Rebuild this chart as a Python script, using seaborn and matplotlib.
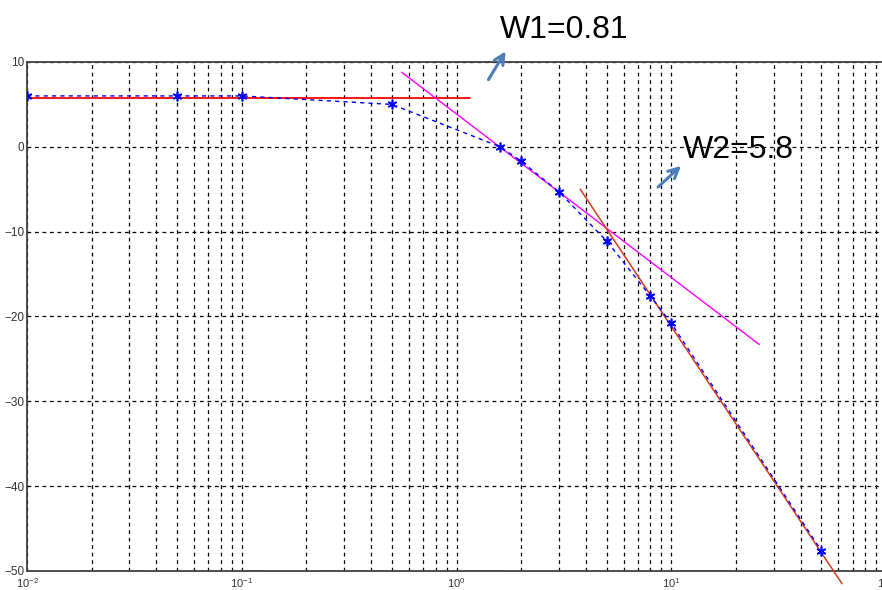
import numpy as np
import pandas as pd
import matplotlib
matplotlib.use("Agg")
import matplotlib.pyplot as plt
from matplotlib.ticker import LogLocator, FixedLocator
import seaborn as sns

# Measured magnitude response (dB) versus frequency
freq = [0.01, 0.05, 0.1, 0.5, 1.6, 2.0, 3.0, 5.0, 8.0, 10.0, 50.0]
gain_db = [6.0, 6.0, 6.0, 5.0, 0.0, -1.7, -5.3, -11.1, -17.6, -20.8, -47.6]

# Asymptote segments: flat, first roll-off, second roll-off
flat_x = [0.01, 1.15]
flat_y = [5.8, 5.8]
slope1_x = [0.555, 25.7]
slope1_y = [8.8, -23.3]
slope2_x = [3.77, 62.4]
slope2_y = [-5.0, -51.5]

corner_labels = ["W1=0.81", "W2=5.8"]

sns.set_style("white")
plt.rcParams["font.family"] = ["Liberation Sans", "DejaVu Sans"]
plt.rcParams["mathtext.fontset"] = "custom"
plt.rcParams["mathtext.rm"] = "Liberation Sans"
plt.rcParams["mathtext.it"] = "Liberation Sans"

fig = plt.figure(figsize=(8.82, 5.90), dpi=100)
ax = fig.add_axes([27 / 882, 1 - 571 / 590, 859 / 882, 509 / 590])

ax.set_xscale("log")
ax.set_xlim(1e-2, 1e2)
ax.set_ylim(-50, 10)

df = pd.DataFrame({"f": freq, "g": gain_db})
sns.lineplot(data=df, x="f", y="g", ax=ax, color="blue", lw=1.0,
             linestyle=(0, (3, 3)), sort=False, marker=(6, 2, 0),
             markersize=7, markeredgewidth=1.2, markeredgecolor="blue", zorder=4)

seg = pd.DataFrame({"x": flat_x, "y": flat_y})
sns.lineplot(data=seg, x="x", y="y", ax=ax, color="red", lw=1.3, zorder=3)
seg = pd.DataFrame({"x": slope1_x, "y": slope1_y})
sns.lineplot(data=seg, x="x", y="y", ax=ax, color="#ff00ff", lw=1.0, zorder=3)
seg = pd.DataFrame({"x": slope2_x, "y": slope2_y})
sns.lineplot(data=seg, x="x", y="y", ax=ax, color="#d83a20", lw=1.1, zorder=3)
ax.lines[-1].set_clip_on(False)

# Grid: major + minor on x, major on y
ax.xaxis.set_major_locator(LogLocator(base=10, numticks=10))
ax.xaxis.set_minor_locator(LogLocator(base=10, subs=np.arange(2, 10), numticks=20))
ax.yaxis.set_major_locator(FixedLocator([-50, -40, -30, -20, -10, 0, 10]))
ax.grid(True, which="major", axis="both", color="black", lw=0.9, linestyle=(0, (3, 3)))
ax.grid(True, which="minor", axis="x", color="black", lw=0.9, linestyle=(0, (3, 3)))

ax.tick_params(axis="both", which="major", direction="in", length=5, width=1,
               color="#333333", labelsize=8.5, labelcolor="#333333", pad=2)
ax.tick_params(axis="x", which="major", labelsize=8, pad=4)
ax.tick_params(axis="x", which="minor", direction="in", length=3, width=1, color="#333333")
ax.set_xlabel("")
ax.set_ylabel("")
for s in ax.spines.values():
    s.set_color("#404040")
    s.set_linewidth(1.3)

# Corner frequency annotations
arrow_kw = dict(arrowstyle="->", color="#4a7ebb", lw=2.2, mutation_scale=18)
fig.text(500 / 882, 1 - 30 / 590, corner_labels[0], fontsize=23, color="black",
         ha="left", va="center")
ax.annotate("", xy=(507 / 882, 1 - 49 / 590), xytext=(487 / 882, 1 - 82 / 590),
            xycoords="figure fraction", textcoords="figure fraction",
            arrowprops=arrow_kw, annotation_clip=False)
fig.text(683 / 882, 1 - 150 / 590, corner_labels[1], fontsize=23, color="black",
         ha="left", va="center")
ax.annotate("", xy=(683 / 882, 1 - 164 / 590), xytext=(656 / 882, 1 - 189 / 590),
            xycoords="figure fraction", textcoords="figure fraction",
            arrowprops=arrow_kw, annotation_clip=False)

fig.savefig("out.png", dpi=100)
